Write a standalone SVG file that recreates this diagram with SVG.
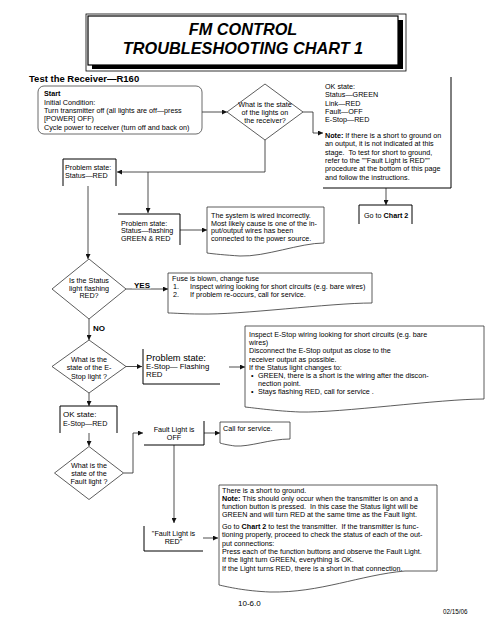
<svg xmlns="http://www.w3.org/2000/svg" width="495" height="640" viewBox="0 0 495 640">
<style>
.t{font-family:"Liberation Sans",Arial,sans-serif;font-size:7.2px;fill:#000}
.c{text-anchor:middle}
.b{font-weight:bold}
.edge{fill:none;stroke:#000;stroke-width:1}
.doc{fill:#fff;stroke:#333;stroke-width:0.8}
.conn{fill:none;stroke:#222;stroke-width:0.8}
.dia{fill:#fff;stroke:#333;stroke-width:0.8}
</style>
<defs>
<marker id="ah" markerUnits="userSpaceOnUse" markerWidth="6" markerHeight="5" refX="5" refY="2.5" orient="auto">
<path d="M0,0 L5,2.5 L0,5 z" fill="#111"/>
</marker>
</defs>
<rect width="495" height="640" fill="#fff"/>

<g id="title">
<rect x="86" y="14" width="320" height="57" fill="none" stroke="#000" stroke-width="0.8"/>
<rect x="92" y="20" width="311" height="49" fill="#000"/>
<rect x="88" y="16" width="310" height="49" fill="#fff" stroke="#000" stroke-width="1.2"/>
<text class="t c b" x="243" y="35" style="font-size:16.3px;font-style:italic">FM CONTROL</text>
<text class="t c b" x="243" y="53.5" style="font-size:16.3px;font-style:italic">TROUBLESHOOTING CHART 1</text>
</g>

<g id="heading">
<text class="t b" x="29" y="81.5" style="font-size:9.5px">Test the Receiver—R160</text>
</g>

<g id="connectors">
<path class="conn" d="M202,112 H227" marker-end="url(#ah)"/>
<path class="conn" d="M303,112 H313 V133 H323" marker-end="url(#ah)"/>
<path class="conn" d="M265,140 V172 H117" marker-end="url(#ah)"/>
<path class="conn" d="M148,172 V213" marker-end="url(#ah)"/>
<path class="conn" d="M386,188 V205" marker-end="url(#ah)"/>
<path class="conn" d="M180,230 H207" marker-end="url(#ah)"/>
<path class="conn" d="M88,186 V259" marker-end="url(#ah)"/>
<path class="conn" d="M126,289 H168" marker-end="url(#ah)"/>
<path class="conn" d="M89,319 V340" marker-end="url(#ah)"/>
<path class="conn" d="M126,366.5 H142" marker-end="url(#ah)"/>
<path class="conn" d="M229,367 H245" marker-end="url(#ah)"/>
<path class="conn" d="M89,393 V406" marker-end="url(#ah)"/>
<path class="conn" d="M89,433 V446" marker-end="url(#ah)"/>
<path class="conn" d="M123.5,473 H133 V433 H143" marker-end="url(#ah)"/>
<path class="conn" d="M204,433 H220" marker-end="url(#ah)"/>
<path class="conn" d="M174,445 V523" marker-end="url(#ah)"/>
<path class="conn" d="M203,538 H218" marker-end="url(#ah)"/>
<rect x="132" y="281" width="19" height="7.3" fill="#fff"/>
<text class="t b" x="134" y="288" style="font-size:8px">YES</text>
<text class="t b" x="93" y="330.5" style="font-size:8px">NO</text>
</g>

<g id="start">
<rect x="38" y="86" width="164" height="48" rx="6" fill="none" stroke="#444" stroke-width="0.8"/>
<text class="t b" x="44" y="96.3">Start</text>
<text class="t" x="44" y="104.6">Initial Condition:</text>
<text class="t" x="44" y="112.9">Turn transmitter off (all lights are off—press</text>
<text class="t" x="44" y="121.2">[POWER] OFF)</text>
<text class="t" x="44" y="129.5">Cycle power to receiver (turn off and back on)</text>
</g>

<g id="dec-lights">
<polygon class="dia" points="265,84 303,112 265,140 227,112"/>
<text class="t c" x="265" y="107">What is the state</text>
<text class="t c" x="265" y="115">of the lights on</text>
<text class="t c" x="265" y="123">the receiver?</text>
</g>

<g id="ok-state">
<path class="edge" d="M451,77 V188 H323"/>
<text class="t" x="325" y="89">OK state:</text>
<text class="t" x="325" y="97.3">Status—GREEN</text>
<text class="t" x="325" y="105.6">Link—RED</text>
<text class="t" x="325" y="113.9">Fault—OFF</text>
<text class="t" x="325" y="122.2">E-Stop—RED</text>
<text class="t" x="325" y="138"><tspan class="b">Note:</tspan> If there is a short to ground on</text>
<text class="t" x="325" y="146.3">an output, it is not indicated at this</text>
<text class="t" x="325" y="154.6">stage.&#160; To test for short to ground,</text>
<text class="t" x="325" y="162.9">refer to the ""Fault Light is RED""</text>
<text class="t" x="325" y="171.2">procedure at the bottom of this page</text>
<text class="t" x="325" y="179.5">and follow the instructions.</text>
</g>

<g id="goto-chart2">
<path class="edge" d="M359,224 V205 H412 V224"/>
<text class="t" x="364" y="217.5">Go to <tspan class="b">Chart 2</tspan></text>
</g>

<g id="problem-red">
<path class="edge" d="M63,186 V159 H116 V186"/>
<text class="t" x="65" y="170">Problem state:</text>
<text class="t" x="65" y="178.3">Status—RED</text>
</g>

<g id="problem-flashing">
<path class="edge" d="M118,214 H180 V245"/>
<text class="t" x="121" y="225.5">Problem state:</text>
<text class="t" x="121" y="233">Status—flashing</text>
<text class="t" x="121" y="240.5">GREEN &amp; RED</text>
</g>

<g id="wired-incorrectly">
<path class="doc" d="M207,207 H324 V243 C300,243 265,257 240,256 C225,255 214,254 207,253 Z"/>
<text class="t" x="211" y="217.8">The system is wired incorrectly.</text>
<text class="t" x="211" y="225.6">Most likely cause is one of the in-</text>
<text class="t" x="211" y="233.4">put/output wires has been</text>
<text class="t" x="211" y="241.2">connected to the power source.</text>
</g>

<g id="dec-status">
<polygon class="dia" points="89,259 126,289 89,319 52,289"/>
<text class="t c" x="89" y="283">Is the Status</text>
<text class="t c" x="89" y="290.5">light flashing</text>
<text class="t c" x="89" y="298">RED?</text>
</g>

<g id="fuse">
<path class="doc" d="M168,273 H372 V303 C330,303 240,315 200,314 C185,314 175,313 168,313 Z"/>
<text class="t" x="172" y="281">Fuse is blown, change fuse</text>
<text class="t" x="173" y="289">1.</text>
<text class="t" x="190" y="289">Inspect wiring looking for short circuits (e.g. bare wires)</text>
<text class="t" x="173" y="297">2.</text>
<text class="t" x="190" y="297">If problem re-occurs, call for service.</text>
</g>

<g id="dec-estop">
<polygon class="dia" points="89,340 126,366.5 89,393 52,366.5"/>
<text class="t c" x="89" y="362">What is the</text>
<text class="t c" x="89" y="370.3">state of the E-</text>
<text class="t c" x="89" y="378.5">Stop light ?</text>
</g>

<g id="estop-flashing">
<path class="edge" d="M143,349 V384 H220"/>
<text class="t" x="146" y="360.5" style="font-size:9.3px">Problem state:</text>
<text class="t" x="146" y="369" style="font-size:7.8px">E-Stop— Flashing</text>
<text class="t" x="146" y="377" style="font-size:7.8px">RED</text>
</g>

<g id="inspect-estop">
<path class="doc" d="M245,326 H484 V399 C440,399 340,413 300,412 C275,411 255,408 245,407 Z"/>
<text class="t" x="249" y="337">Inspect E-Stop wiring looking for short circuits (e.g. bare</text>
<text class="t" x="249" y="345.2">wires)</text>
<text class="t" x="249" y="353.4">Disconnect the E-Stop output as close to the</text>
<text class="t" x="249" y="361.6">receiver output as possible.</text>
<text class="t" x="249" y="369.8">If the Status light changes to:</text>
<text class="t" x="251" y="378">•</text>
<text class="t" x="258" y="378">GREEN, there is a short is the wiring after the discon-</text>
<text class="t" x="258" y="386.2">nection point.</text>
<text class="t" x="251" y="394.4">•</text>
<text class="t" x="258" y="394.4">Stays flashing RED, call for service .</text>
</g>

<g id="ok-estop">
<path class="edge" d="M60,433 V406 H117 V433"/>
<text class="t" x="63" y="417" style="font-size:8px">OK state:</text>
<text class="t" x="63" y="426.3">E-Stop—RED</text>
</g>

<g id="dec-fault">
<polygon class="dia" points="89,446.5 123.5,473 89,499.5 54.5,473"/>
<text class="t c" x="89" y="467.8">What is the</text>
<text class="t c" x="89" y="476">state of the</text>
<text class="t c" x="89" y="484.3">Fault light ?</text>
</g>

<g id="fault-off">
<path class="edge" d="M204,421 V445 H144"/>
<text class="t c" x="174" y="432">Fault Light is</text>
<text class="t c" x="174" y="440.3">OFF</text>
</g>

<g id="call-service">
<path class="doc" d="M220,422 H290 V439 C270,439 250,447 235,446 C228,445 223,444 220,443 Z"/>
<text class="t" x="223" y="431">Call for service.</text>
</g>

<g id="fault-red">
<path class="edge" d="M144,526 V551 H203"/>
<text class="t c" x="173.5" y="535.5">"Fault Light is</text>
<text class="t c" x="173.5" y="543.5">RED"</text>
</g>

<g id="short-ground">
<path class="doc" d="M219,485 H437 V571 L405,571 C360,575 320,593 270,592 C245,591 228,587 219,585 Z"/>
<text class="t" x="222" y="492.5">There is a short to ground.</text>
<text class="t" x="222" y="500.8"><tspan class="b">Note:</tspan> This should only occur when the transmitter is on and a</text>
<text class="t" x="222" y="509.1">function button is pressed.&#160; In this case the Status light will be</text>
<text class="t" x="222" y="517.4">GREEN and will turn RED at the same time as the Fault light.</text>
<text class="t" x="222" y="529">Go to <tspan class="b">Chart 2</tspan> to test the transmitter.&#160; If the transmitter is func-</text>
<text class="t" x="222" y="537.3">tioning properly, proceed to check the status of each of the out-</text>
<text class="t" x="222" y="545.6">put connections:</text>
<text class="t" x="222" y="553.9">Press each of the function buttons and observe the Fault Light.</text>
<text class="t" x="222" y="562.2">If the light turn GREEN, everything is OK.</text>
<text class="t" x="222" y="570.5">If the Light turns RED, there is a short in that connection.</text>
</g>

<g id="footer">
<text class="t" x="238" y="606" style="font-size:8px">10-6.0</text>
<text class="t" x="443" y="614" style="font-size:6.3px">02/15/06</text>
</g>
</svg>
